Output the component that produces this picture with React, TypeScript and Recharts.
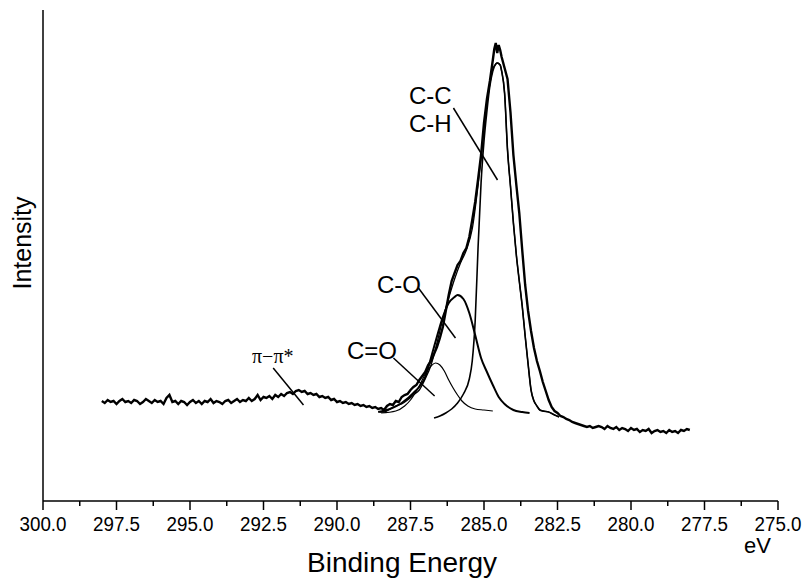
import { Line, LineChart, ReferenceLine, XAxis, YAxis } from 'recharts';

type Pt = [number, number];

// binding energy (eV), intensity (a.u.)
const measured: Pt[] = [
  [298.0, 100], [297.9, 98], [297.8, 101], [297.7, 99], [297.6, 100], [297.5, 97], [297.4, 100], [297.3, 102],
  [297.2, 99], [297.1, 100], [297.0, 98], [296.9, 101], [296.8, 100], [296.7, 97], [296.6, 99], [296.5, 102],
  [296.4, 100], [296.3, 98], [296.2, 101], [296.1, 99], [296.0, 100], [295.9, 97], [295.8, 103], [295.7, 106],
  [295.6, 99], [295.5, 100], [295.4, 97], [295.3, 100], [295.2, 99], [295.1, 96], [295.0, 99], [294.9, 101],
  [294.8, 98], [294.7, 100], [294.6, 97], [294.5, 100], [294.4, 99], [294.3, 102], [294.2, 98], [294.1, 100],
  [294.0, 99], [293.9, 97], [293.8, 100], [293.7, 101], [293.6, 98], [293.5, 100], [293.4, 102], [293.3, 99],
  [293.2, 101], [293.1, 100], [293.0, 103], [292.9, 100], [292.8, 102], [292.7, 106], [292.6, 101], [292.5, 104],
  [292.4, 103], [292.3, 105], [292.2, 102], [292.1, 106], [292.0, 104], [291.9, 107], [291.8, 105], [291.7, 108],
  [291.6, 109], [291.5, 107], [291.4, 110], [291.3, 111], [291.2, 109], [291.1, 110], [291.0, 107], [290.9, 108],
  [290.8, 106], [290.7, 107], [290.6, 104], [290.5, 105], [290.4, 103], [290.3, 104], [290.2, 101], [290.1, 102],
  [290.0, 99], [289.9, 100], [289.8, 98], [289.7, 99], [289.6, 97], [289.5, 98], [289.4, 96], [289.3, 97],
  [289.2, 95], [289.1, 96], [289.0, 94], [288.9, 95], [288.8, 93], [288.7, 94], [288.6, 92], [288.5, 93],
  [288.4, 91], [288.3, 95], [288.2, 97], [288.1, 96], [288.0, 100], [287.9, 99], [287.8, 104], [287.7, 106],
  [287.6, 107], [287.5, 111], [287.4, 114], [287.3, 116], [287.2, 121], [287.1, 125], [287.0, 129], [286.9, 136],
  [286.8, 140], [286.7, 147], [286.6, 154], [286.5, 163], [286.4, 174], [286.3, 190], [286.2, 206], [286.1, 220],
  [286.0, 228], [285.9, 236], [285.8, 240], [285.7, 248], [285.6, 253], [285.5, 264], [285.4, 281], [285.3, 299],
  [285.2, 322], [285.1, 346], [285.0, 378], [284.9, 402], [284.8, 420], [284.7, 441], [284.65, 452], [284.6, 458],
  [284.55, 448], [284.5, 456], [284.45, 451], [284.4, 444], [284.3, 433], [284.2, 422], [284.1, 389], [284.0, 346],
  [283.9, 316], [283.8, 288], [283.7, 251], [283.6, 216], [283.5, 190], [283.4, 170], [283.3, 153], [283.2, 140],
  [283.1, 130], [283.0, 119], [282.9, 110], [282.8, 101], [282.7, 94], [282.6, 90], [282.5, 88], [282.4, 85],
  [282.3, 84], [282.2, 82], [282.1, 81], [282.0, 79], [281.9, 78], [281.8, 77], [281.7, 76], [281.6, 75],
  [281.5, 74], [281.4, 75], [281.3, 73], [281.2, 74], [281.1, 75], [281.0, 74], [280.9, 72], [280.8, 75],
  [280.7, 73], [280.6, 72], [280.5, 74], [280.4, 71], [280.3, 73], [280.2, 72], [280.1, 70], [280.0, 73],
  [279.9, 71], [279.8, 72], [279.7, 69], [279.6, 71], [279.5, 70], [279.4, 72], [279.3, 68], [279.2, 70],
  [279.1, 71], [279.0, 69], [278.9, 70], [278.8, 68], [278.7, 71], [278.6, 69], [278.5, 70], [278.4, 68],
  [278.3, 71], [278.2, 70], [278.1, 72], [278.0, 71],
];

const fitEnvelope: Pt[] = [
  [288.55, 89], [288.4, 89], [288.2, 92], [288.0, 95], [287.8, 97], [287.6, 101], [287.4, 106], [287.2, 111],
  [287.0, 122], [286.8, 136], [286.6, 158], [286.4, 182], [286.2, 203], [286.0, 222], [285.8, 238], [285.6, 251],
  [285.4, 272], [285.2, 316], [285.1, 342], [285.0, 372], [284.9, 398], [284.8, 418], [284.7, 432], [284.6, 437],
  [284.55, 438], [284.45, 436], [284.4, 430], [284.3, 408], [284.2, 351], [284.1, 315], [284.0, 278], [283.9, 246],
  [283.8, 220], [283.7, 195], [283.6, 165], [283.5, 137], [283.4, 111], [283.3, 100], [283.2, 95], [283.1, 91],
  [283.0, 90], [282.8, 89], [282.6, 86], [282.45, 84],
];

const peakCC: Pt[] = [
  [286.7, 83], [286.5, 85], [286.3, 88], [286.1, 92], [285.9, 98], [285.7, 107], [285.5, 122], [285.4, 140],
  [285.3, 180], [285.2, 255], [285.1, 318], [285.0, 360], [284.9, 390], [284.8, 415], [284.7, 430], [284.6, 437],
  [284.55, 438], [284.45, 436], [284.4, 430], [284.3, 408], [284.2, 351], [284.1, 315], [284.0, 278], [283.9, 246],
  [283.8, 220], [283.7, 195], [283.6, 165], [283.5, 137], [283.4, 111], [283.3, 100], [283.2, 95], [283.1, 91],
  [283.0, 90], [282.8, 89], [282.6, 86], [282.45, 84],
];

const peakCO: Pt[] = [
  [288.6, 89], [288.2, 92], [287.8, 98], [287.4, 108], [287.0, 124], [286.7, 154], [286.4, 184], [286.2, 198],
  [286.0, 204], [285.9, 206], [285.7, 202], [285.5, 188], [285.3, 166], [285.1, 143], [284.9, 129], [284.7, 116],
  [284.5, 104], [284.3, 97], [284.0, 91], [283.7, 89], [283.45, 88],
];

const peakCdO: Pt[] = [
  [288.5, 88], [288.0, 90], [287.7, 95], [287.5, 101], [287.3, 110], [287.15, 118], [287.0, 127], [286.8, 135],
  [286.65, 138], [286.5, 136], [286.35, 130], [286.2, 121], [286.05, 113], [285.9, 106], [285.75, 100], [285.55, 95],
  [285.3, 92], [285.0, 91], [284.7, 90],
];

const energyTicks = [
  300, 298.75, 297.5, 296.25, 295, 293.75, 292.5, 291.25, 290, 288.75, 287.5, 286.25, 285, 283.75, 282.5,
  281.25, 280, 278.75, 277.5, 276.25, 275,
];
const labelledTicks = [300, 297.5, 295, 292.5, 290, 287.5, 285, 282.5, 280, 277.5, 275];

// leader lines from the peak labels: [eV, intensity] start and end
const leaders: { from: Pt; to: Pt }[] = [
  { from: [286.04, 393], to: [284.54, 321] },
  { from: [287.23, 213], to: [285.97, 163] },
  { from: [288.08, 143], to: [286.68, 105] },
  { from: [292.17, 133], to: [291.14, 96] },
];

const FONT = '"Liberation Sans", Arial, Helvetica, sans-serif';

const rows = (pts: Pt[]) => pts.map(([x, y]) => ({ x, y }));

function EnergyTick({ x, y, payload }: any) {
  const v = payload.value as number;
  const major = labelledTicks.includes(v);
  return (
    <g>
      <line x1={x} y1={y} x2={x} y2={y + (major ? 9 : 5)} stroke="#000" strokeWidth={1.5} />
      {major && (
        <text
          x={x}
          y={y + 30}
          textAnchor="middle"
          fontSize={20}
          textLength={47}
          lengthAdjust="spacingAndGlyphs"
          fontFamily={FONT}
          fill="#000"
        >
          {v.toFixed(1)}
        </text>
      )}
    </g>
  );
}

const textStyle = (left: number, top: number, size: number): React.CSSProperties => ({
  position: 'absolute',
  left,
  top,
  fontSize: size,
  lineHeight: 1,
  fontFamily: FONT,
  color: '#000',
  whiteSpace: 'nowrap',
});

export default function App() {
  return (
    <div style={{ position: 'absolute', left: 0, top: 0, width: 804, height: 580, background: '#fff' }}>
      <LineChart width={804} height={580} margin={{ top: 10, right: 26, bottom: 49, left: 33 }}>
        <XAxis
          type="number"
          dataKey="x"
          domain={[275, 300]}
          reversed
          ticks={energyTicks}
          interval={0}
          tickSize={0}
          tickMargin={0}
          tickLine={false}
          tick={<EnergyTick />}
          height={30}
          axisLine={{ stroke: '#000', strokeWidth: 1.5 }}
          allowDataOverflow
        />
        <YAxis
          type="number"
          dataKey="y"
          domain={[0, 491]}
          width={10}
          tick={false}
          tickLine={false}
          axisLine={{ stroke: '#000', strokeWidth: 1.5 }}
        />
        {leaders.map((l, i) => (
          <ReferenceLine
            key={i}
            segment={[
              { x: l.from[0], y: l.from[1] },
              { x: l.to[0], y: l.to[1] },
            ]}
            stroke="#000"
            strokeWidth={1.5}
            ifOverflow="visible"
          />
        ))}
        <Line data={rows(peakCdO)} dataKey="y" type="monotone" stroke="#000" strokeWidth={1.2} dot={false} isAnimationActive={false} />
        <Line data={rows(peakCO)} dataKey="y" type="monotone" stroke="#000" strokeWidth={2} dot={false} isAnimationActive={false} />
        <Line data={rows(peakCC)} dataKey="y" type="monotone" stroke="#000" strokeWidth={1.6} dot={false} isAnimationActive={false} />
        <Line data={rows(fitEnvelope)} dataKey="y" type="monotone" stroke="#000" strokeWidth={1.3} dot={false} isAnimationActive={false} />
        <Line data={rows(measured)} dataKey="y" type="linear" stroke="#000" strokeWidth={2.4} dot={false} isAnimationActive={false} />
      </LineChart>

      <div style={textStyle(409, 84, 24)}>C-C</div>
      <div style={textStyle(409, 112, 24)}>C-H</div>
      <div style={textStyle(377, 273, 24)}>C-O</div>
      <div style={textStyle(347, 339, 24)}>C=O</div>
      <div style={{ ...textStyle(252, 346, 20), fontFamily: '"Liberation Serif", "DejaVu Serif", serif' }}>π−π*</div>
      <div
        style={{
          ...textStyle(22, 243, 25),
          transform: 'translate(-50%, -50%) rotate(-90deg)',
        }}
      >
        Intensity
      </div>
      <div style={{ ...textStyle(402, 549, 28), transform: 'translateX(-50%)' }}>Binding Energy</div>
      <div style={textStyle(744, 535, 22)}>eV</div>
    </div>
  );
}
